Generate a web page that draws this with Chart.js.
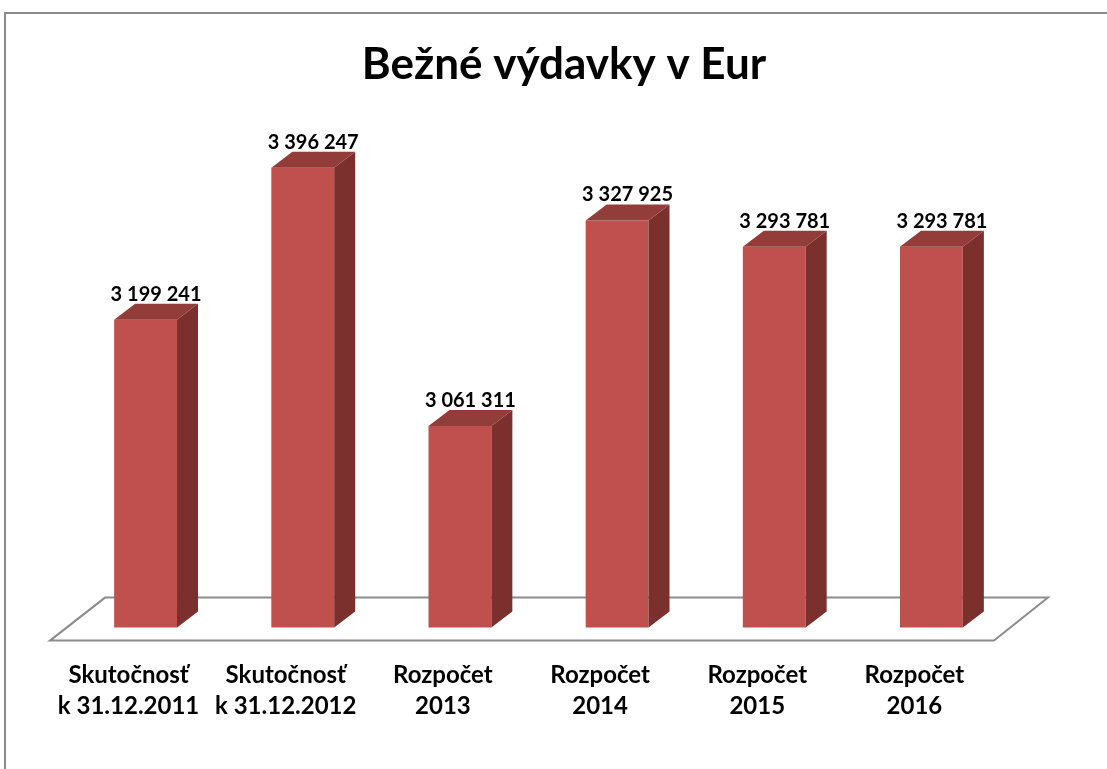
<!DOCTYPE html>
<html>
<head>
<meta charset="utf-8">
<script src="https://cdn.jsdelivr.net/npm/chart.js@4/dist/chart.umd.min.js"></script>
<style>
  html, body { margin: 0; padding: 0; background: #fff; }
  #wrap { position: relative; width: 1107px; height: 769px; overflow: hidden; }
  #frame { position: absolute; left: 4px; top: 12px; width: 1200px; height: 900px;
           border-left: 2px solid #8a8a8a; border-top: 2px solid #8a8a8a; }
  #chart { position: absolute; left: 0; top: 0; }
</style>
</head>
<body>
<div id="wrap">
  <div id="frame"></div>
  <canvas id="chart" width="1107" height="769"></canvas>
</div>
<script>
/* global Chart */

const categories = [
  ['Skutočnosť', 'k 31.12.2011'],
  ['Skutočnosť', 'k 31.12.2012'],
  ['Rozpočet', '2013'],
  ['Rozpočet', '2014'],
  ['Rozpočet', '2015'],
  ['Rozpočet', '2016'],
];
const values = [3199241, 3396247, 3061311, 3327925, 3293781, 3293781];
const axisMin = 2800000;
const axisMax = 3400000;
const title = 'Bežné výdavky v Eur';

const fontFamily = 'Lato, "Open Sans", sans-serif';
const colors = { front: '#C0504D', top: '#933D3B', side: '#7C302E', floor: '#8c8c8c' };
const depth = { dx: 21, dy: 16 };

function fmt(v) {
  return String(v).replace(/\B(?=(\d{3})+(?!\d))/g, ' ');
}

// fake 3d: floor below the bars, top and side faces + value labels after
const bar3d = {
  id: 'bar3d',
  beforeDatasetsDraw(chart) {
    const { ctx, chartArea: a } = chart;
    const fy = a.bottom + 13;
    ctx.save();
    ctx.beginPath();
    ctx.moveTo(a.left - 17, fy);
    ctx.lineTo(a.right - 16, fy);
    ctx.lineTo(a.right + 38, fy - 43);
    ctx.lineTo(a.left + 38, fy - 43);
    ctx.closePath();
    ctx.fillStyle = '#fff';
    ctx.fill();
    ctx.strokeStyle = colors.floor;
    ctx.lineWidth = 2;
    ctx.stroke();
    ctx.restore();
  },
  afterDatasetsDraw(chart) {
    const ctx = chart.ctx;
    const meta = chart.getDatasetMeta(0);
    const base = chart.scales.y.getPixelForValue(axisMin);
    ctx.save();
    meta.data.forEach((bar, i) => {
      const { x, y, width } = bar.getProps(['x', 'y', 'width'], true);
      const l = x - width / 2;
      const r = x + width / 2;

      ctx.beginPath();
      ctx.moveTo(l, y);
      ctx.lineTo(l + depth.dx, y - depth.dy);
      ctx.lineTo(r + depth.dx, y - depth.dy);
      ctx.lineTo(r, y);
      ctx.closePath();
      ctx.fillStyle = colors.top;
      ctx.fill();

      ctx.beginPath();
      ctx.moveTo(r, y);
      ctx.lineTo(r + depth.dx, y - depth.dy);
      ctx.lineTo(r + depth.dx, base - depth.dy);
      ctx.lineTo(r, base);
      ctx.closePath();
      ctx.fillStyle = colors.side;
      ctx.fill();

      ctx.fillStyle = '#000';
      ctx.font = 'bold 20px ' + fontFamily;
      ctx.textAlign = 'center';
      ctx.textBaseline = 'alphabetic';
      ctx.fillText(fmt(values[i]), x + depth.dx / 2, y - depth.dy - 3);
    });
    ctx.restore();
  }
};

const ctx = document.getElementById('chart');
new Chart(ctx, {
  type: 'bar',
  data: {
    labels: categories,
    datasets: [{
      data: values,
      backgroundColor: colors.front,
      borderWidth: 0,
      categoryPercentage: 1,
      barPercentage: 0.4,
    }]
  },
  options: {
    responsive: false,
    animation: false,
    layout: { padding: { left: 21, right: 0, top: 12, bottom: 15 } },
    plugins: {
      legend: { display: false },
      tooltip: { enabled: false },
      title: {
        display: true,
        text: title,
        color: '#000',
        font: { family: fontFamily, size: 44, weight: 'bold', lineHeight: 1.2 },
        padding: { top: 26, bottom: 74 }
      }
    },
    scales: {
      x: {
        grid: { display: false, drawTicks: false },
        border: { display: false },
        ticks: {
          color: '#000',
          font: { family: fontFamily, size: 24, weight: 'bold', lineHeight: 1.3 },
          padding: 32,
          labelOffset: -17,
          maxRotation: 0,
          autoSkip: false
        }
      },
      y: {
        position: 'left',
        min: axisMin,
        max: axisMax,
        grid: { display: false, drawTicks: false },
        border: { display: false },
        ticks: { display: false },
        afterFit(scale) { scale.width = 46; }
      },
      y2: {
        position: 'right',
        grid: { display: false, drawTicks: false },
        border: { display: false },
        ticks: { display: false },
        afterFit(scale) { scale.width = 97; }
      }
    }
  },
  plugins: [bar3d]
});
</script>
</body>
</html>
